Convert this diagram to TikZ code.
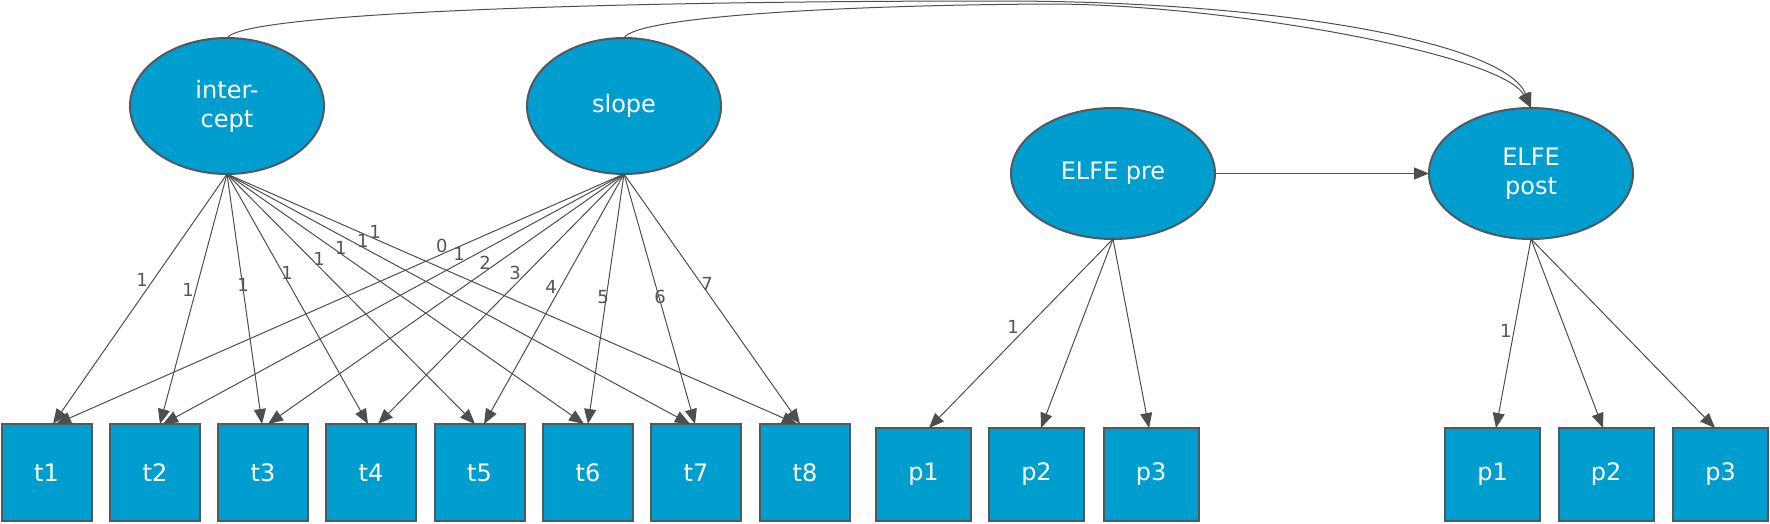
\documentclass[tikz,border=0pt]{standalone}
\usepackage{fontspec}
\setmainfont{DejaVu Sans}
\usetikzlibrary{arrows.meta,shapes.geometric}
\definecolor{nodefill}{RGB}{0,158,206}
\definecolor{nodeline}{RGB}{80,88,96}
\definecolor{edgecol}{RGB}{78,78,78}
\definecolor{lblcol}{RGB}{85,85,85}
\begin{document}
\begin{tikzpicture}[x=1pt,y=-1pt,
  latent/.style={ellipse,draw=nodeline,fill=nodefill,line width=2pt,inner sep=0pt,outer sep=0pt,
    text=white,font=\fontsize{24}{29}\selectfont,align=center},
  lat1/.style={latent,minimum width=194pt,minimum height=136pt},
  lat2/.style={latent,minimum width=204pt,minimum height=131pt},
  obs/.style={rectangle,draw=nodeline,fill=nodefill,line width=2pt,inner sep=0pt,outer sep=0pt,
    text=white,font=\fontsize{24}{29}\selectfont},
  tbox/.style={obs,minimum width=90pt,minimum height=97pt},
  pbox/.style={obs,minimum width=95pt,minimum height=93pt},
  edge/.style={draw=edgecol,line width=1pt,-{Triangle[length=15pt,width=12pt]}},
  lbl/.style={font=\fontsize{18}{18}\selectfont,text=lblcol,inner sep=0pt}
]
\useasboundingbox (0,0) rectangle (1770,523);

% latent variables
\node[lat1] (int) at (227,106) {inter-\\cept};
\node[lat1] (slope) at (624,106) {slope};
\node[lat2] (pre) at (1113,173.5) {ELFE pre};
\node[lat2] (post) at (1531,173.5) {ELFE\\post};

% indicators
\node[tbox] (t1) at (46.5,472.5) {t1};
\node[tbox] (t2) at (155,472.5) {t2};
\node[tbox] (t3) at (263,472.5) {t3};
\node[tbox] (t4) at (371,472.5) {t4};
\node[tbox] (t5) at (479.5,472.5) {t5};
\node[tbox] (t6) at (588,472.5) {t6};
\node[tbox] (t7) at (696,472.5) {t7};
\node[tbox] (t8) at (805,472.5) {t8};

\node[pbox] (a1) at (923.5,474.5) {p1};
\node[pbox] (a2) at (1036.5,474.5) {p2};
\node[pbox] (a3) at (1151,474.5) {p3};
\node[pbox] (b1) at (1492.5,474.5) {p1};
\node[pbox] (b2) at (1606,474.5) {p2};
\node[pbox] (b3) at (1720.5,474.5) {p3};

% intercept loadings
\draw[edge] (int.south) -- node[lbl,pos=.423,xshift=-11.4] (li1) {1} ([xshift=6.5]t1.north);
\draw[edge] (int.south) -- node[lbl,pos=.464,xshift=-7.9] (li2) {1} ([xshift=5]t2.north);
\draw[edge] (int.south) -- node[lbl,pos=.444,xshift=0.5] (li3) {1} ([xshift=-1]t3.north);
\draw[edge] (int.south) -- node[lbl,pos=.395,xshift=4.3] (li4) {1} ([xshift=-3]t4.north);
\draw[edge] (int.south) -- node[lbl,pos=.339,xshift=8] (li5) {1} ([xshift=-4.5]t5.north);
\draw[edge] (int.south) -- node[lbl,pos=.294,xshift=9] (li6) {1} ([xshift=-4]t6.north);
\draw[edge] (int.south) -- node[lbl,pos=.266,xshift=12.8] (li7) {1} ([xshift=-6]t7.north);
\draw[edge] (int.south) -- node[lbl,pos=.230,xshift=16.9] (li8) {1} ([xshift=-8]t8.north);

% slope loadings
\draw[edge] (slope.south) -- node[lbl,pos=.286,xshift=-19.6] (ls1) {0} ([xshift=9.5]t1.north);
\draw[edge] (slope.south) -- node[lbl,pos=.319,xshift=-17.9] (ls2) {1} ([xshift=8]t2.north);
\draw[edge] (slope.south) -- node[lbl,pos=.355,xshift=-12.6] (ls3) {2} ([xshift=5]t3.north);
\draw[edge] (slope.south) -- node[lbl,pos=.395,xshift=-11.8] (ls4) {3} ([xshift=7]t4.north);
\draw[edge] (slope.south) -- node[lbl,pos=.452,xshift=-9.7] (ls5) {4} ([xshift=4.5]t5.north);
\draw[edge] (slope.south) -- node[lbl,pos=.492,xshift=-3.3] (ls6) {5} (t6.north);
\draw[edge] (slope.south) -- node[lbl,pos=.492,xshift=1.1] (ls7) {6} ([xshift=-1]t7.north);
\draw[edge] (slope.south) -- node[lbl,pos=.440,xshift=5.6] (ls8) {7} ([xshift=-5]t8.north);

% ELFE loadings
\draw[edge] (pre.south) -- node[lbl,pos=.465,xshift=-14.4] (lp1) {1} ([xshift=5.5]a1.north);
\draw[edge] (pre.south) -- ([xshift=4.5]a2.north);
\draw[edge] (pre.south) -- ([xshift=-2]a3.north);
\draw[edge] (post.south) -- node[lbl,pos=.487,xshift=-8] (lq1) {1} ([xshift=3.5]b1.north);
\draw[edge] (post.south) -- ([xshift=-3]b2.north);
\draw[edge] (post.south) -- ([xshift=-5.5]b3.north);

% regression
\draw[edge] (pre.east) -- (post.west);

% curved paths to ELFE post
\coordinate (topA) at (1000,1);
\coordinate (topB) at (1050,4);
\draw[edge] (int.north) .. controls +(15,-25) and +(-400,0) .. (topA)
  .. controls +(280,0) and +(-25,-65) .. (post.north);
\draw[edge] (slope.north) .. controls +(12,-22) and +(-200,1) .. (topB)
  .. controls +(170,0) and +(-30,-55) .. (post.north);
\end{tikzpicture}
\end{document}
